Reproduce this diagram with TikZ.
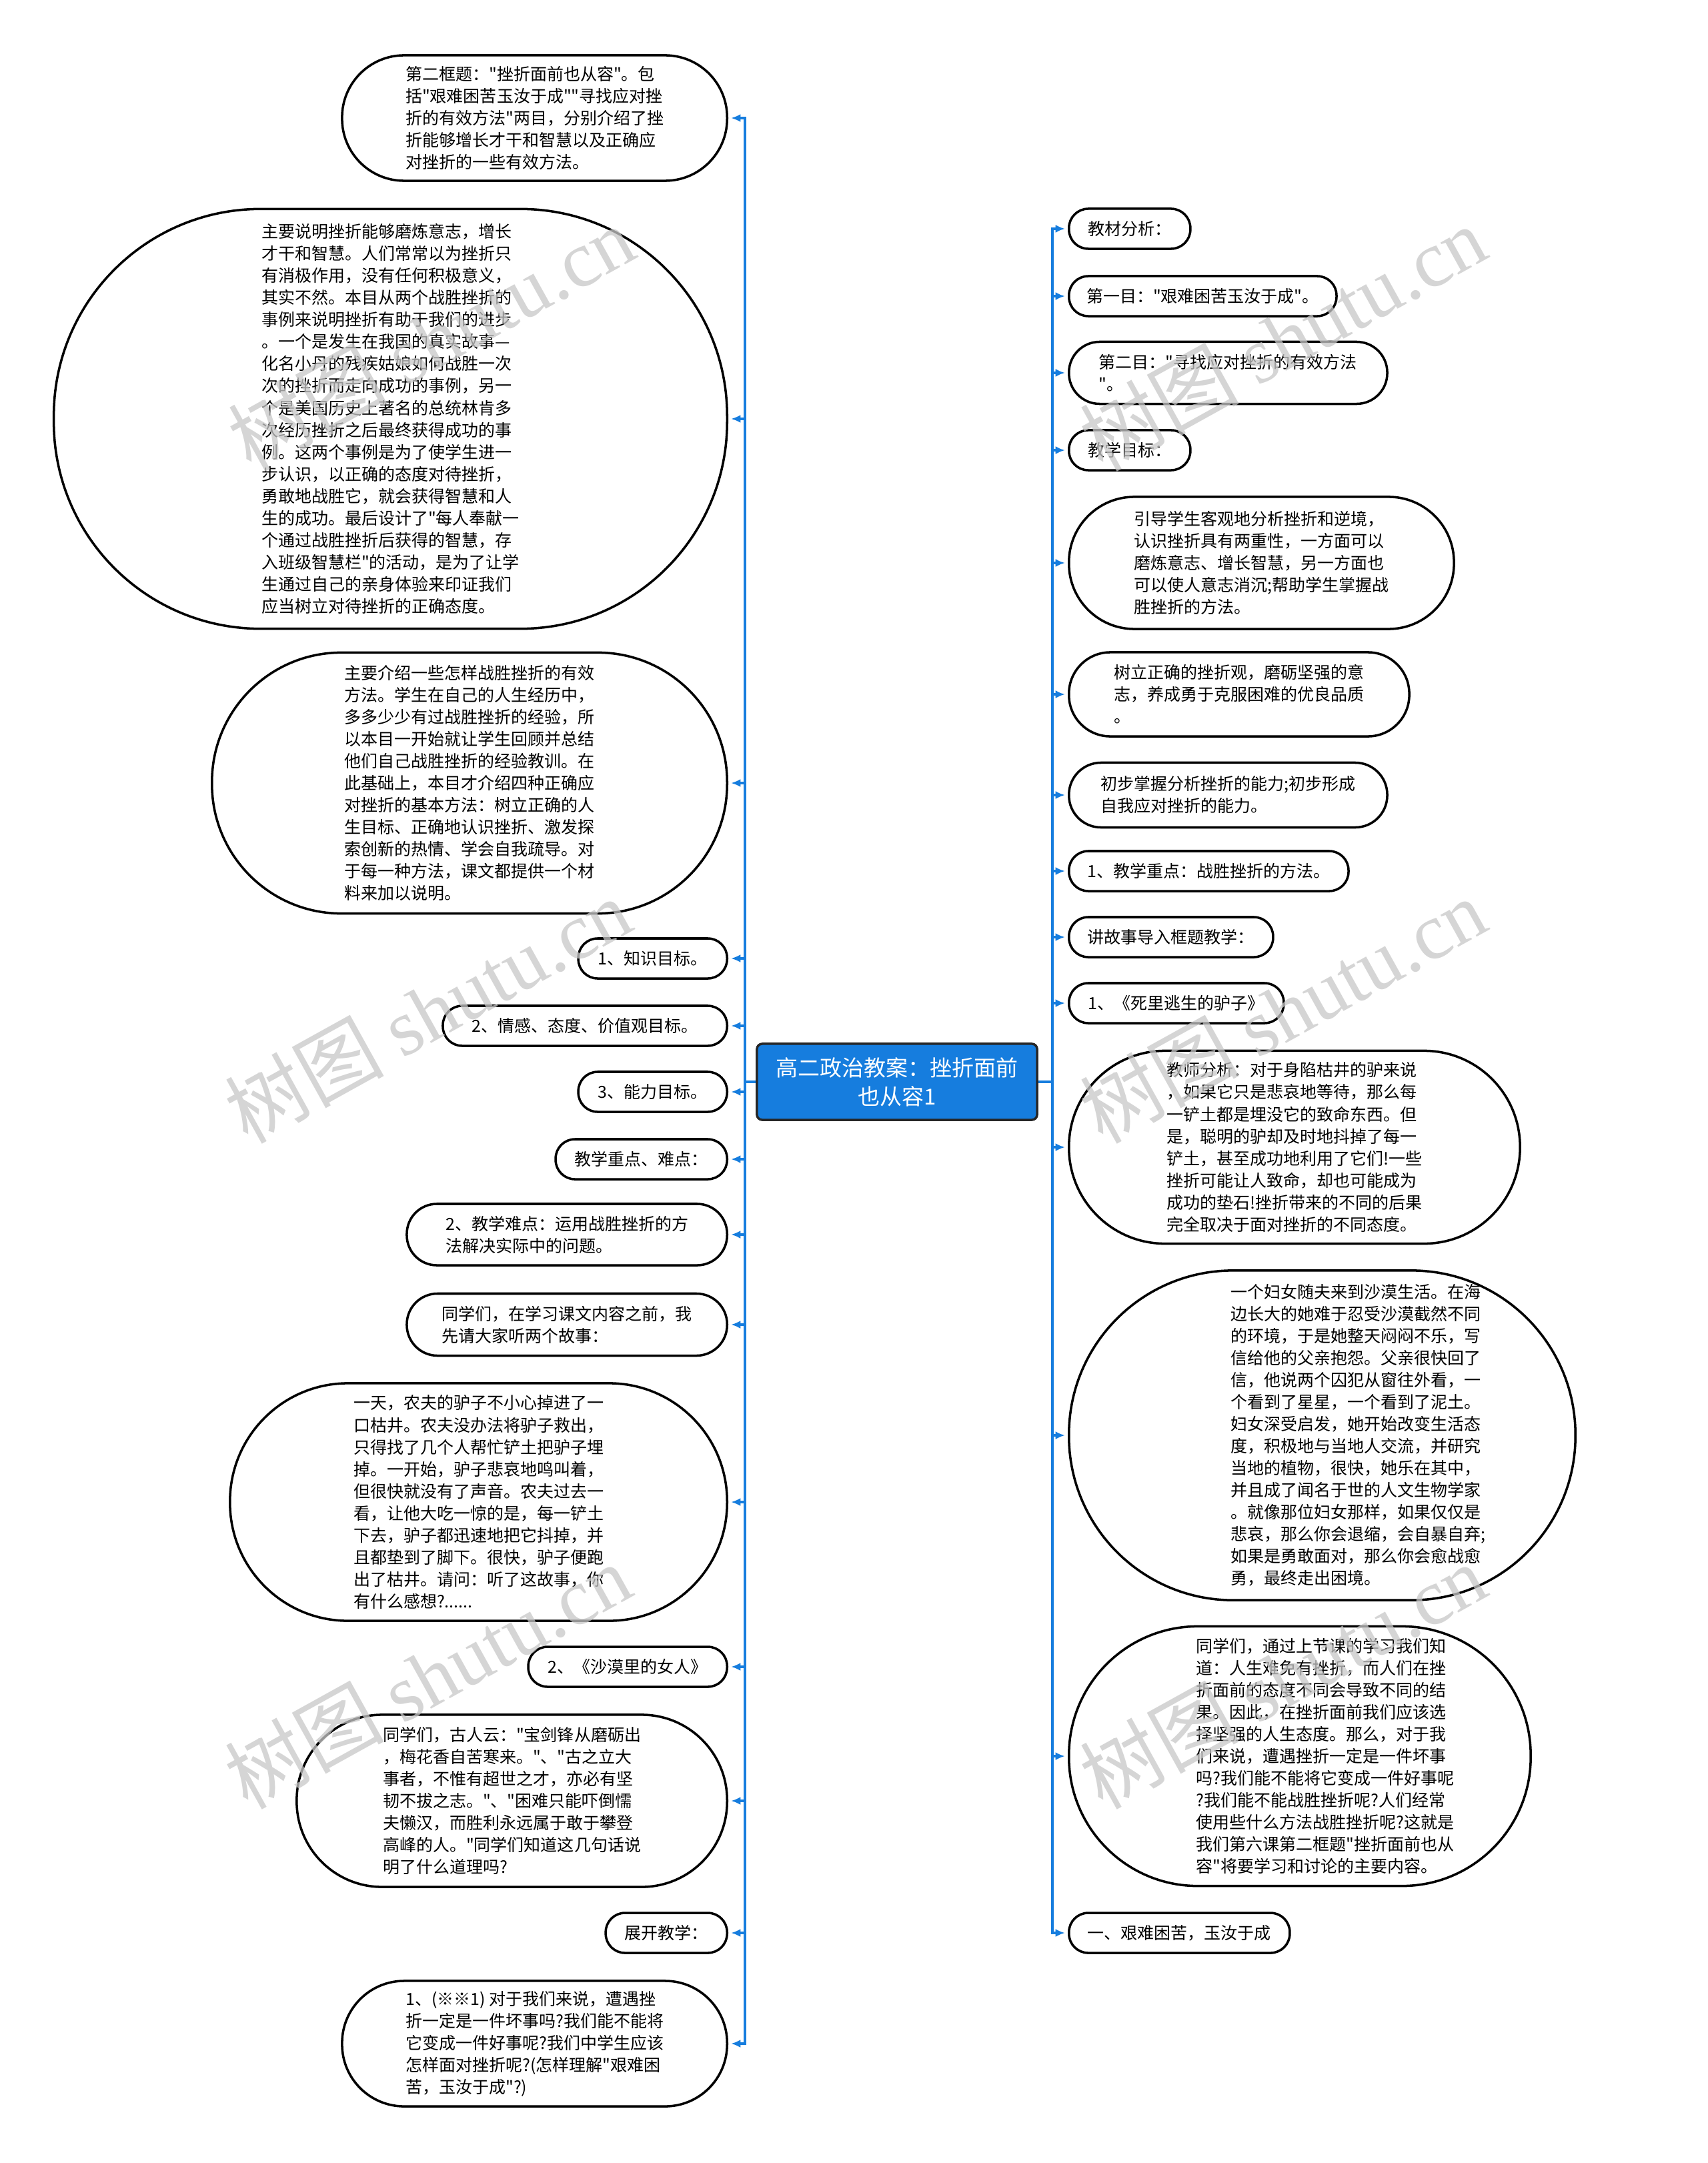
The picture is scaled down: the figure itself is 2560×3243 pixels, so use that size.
\documentclass[tikz,border=0pt]{standalone}
\usepackage{fontspec}
\usepackage{tikz}
\usetikzlibrary{arrows.meta}
\newfontfamily\cjk{Noto Sans CJK SC}
\newfontfamily\wmserif{Liberation Serif}
\definecolor{mindblue}{RGB}{22,125,222}

\tikzset{
  leaf/.style={draw=black, line width=1pt, fill=white, inner sep=0pt, align=left,
    font=\cjk\fontsize{7.11pt}{9.39pt}\selectfont},
  pill/.style={leaf, minimum height=0.6cm, rounded corners=0.29cm},
  leaftext/.style={inner sep=0pt, align=left, font=\cjk\fontsize{7.11pt}{9.39pt}\selectfont},
  link/.style={draw=mindblue, line width=1.2pt, -{Latex[length=4pt,width=3.4pt]}, shorten >=1.2pt},
  watermark/.style={rotate=29, text=black!22, opacity=0.75, inner sep=0pt}
}

\begin{document}
\begin{tikzpicture}[x=0.01cm, y=-0.01cm]

	\fill[white] (0,0) rectangle (2560,3243);
	\useasboundingbox (0,0) rectangle (2560,3243);

	% --- root ---
	\node[fill=mindblue, draw=black!85, line width=1pt, rounded corners=0.08cm, minimum width=4.2cm, minimum height=1.14cm, text=white, align=center, font=\cjk\fontsize{9.39pt}{12.2pt}\selectfont] (root) at (1345,1622) {高二政治教案：挫折面前\\也从容1};

	% --- left branch ---
	\node[leaf, anchor=east, minimum width=5.77cm, minimum height=1.88cm, rounded corners=0.93cm] (l1) at (1092,177) {第二框题："挫折面前也从容"。包\\括"艰难困苦玉汝于成""寻找应对挫\\折的有效方法"两目，分别介绍了挫\\折能够增长才干和智慧以及正确应\\对挫折的一些有效方法。};
	\node[leaf, anchor=east, minimum width=10.09cm, minimum height=6.29cm, rounded corners=3.1cm] (l2) at (1092,628) {主要说明挫折能够磨炼意志，增长\\才干和智慧。人们常常以为挫折只\\有消极作用，没有任何积极意义，\\其实不然。本目从两个战胜挫折的\\事例来说明挫折有助于我们的进步\\。一个是发生在我国的真实故事—\\化名小丹的残疾姑娘如何战胜一次\\次的挫折而走向成功的事例，另一\\个是美国历史上著名的总统林肯多\\次经历挫折之后最终获得成功的事\\例。这两个事例是为了使学生进一\\步认识，以正确的态度对待挫折，\\勇敢地战胜它，就会获得智慧和人\\生的成功。最后设计了"每人奉献一\\个通过战胜挫折后获得的智慧，存\\入班级智慧栏"的活动，是为了让学\\生通过自己的亲身体验来印证我们\\应当树立对待挫折的正确态度。};
	\node[leaf, anchor=east, minimum width=7.72cm, minimum height=3.91cm, rounded corners=1.94cm] (l3) at (1092,1174) {主要介绍一些怎样战胜挫折的有效\\方法。学生在自己的人生经历中，\\多多少少有过战胜挫折的经验，所\\以本目一开始就让学生回顾并总结\\他们自己战胜挫折的经验教训。在\\此基础上，本目才介绍四种正确应\\对挫折的基本方法：树立正确的人\\生目标、正确地认识挫折、激发探\\索创新的热情、学会自我疏导。对\\于每一种方法，课文都提供一个材\\料来加以说明。};
	\node[pill, anchor=east, minimum width=2.23cm] (l4) at (1092,1437) {1、知识目标。};
	\node[pill, anchor=east, minimum width=4.26cm] (l5) at (1092,1538) {2、情感、态度、价值观目标。};
	\node[pill, anchor=east, minimum width=2.23cm] (l6) at (1092,1637) {3、能力目标。};
	\node[pill, anchor=east, minimum width=2.57cm] (l7) at (1092,1738) {教学重点、难点：};
	\node[leaf, anchor=east, minimum width=4.8cm, minimum height=0.92cm, rounded corners=0.45cm] (l8) at (1092,1851) {2、教学难点：运用战胜挫折的方\\法解决实际中的问题。};
	\node[leaf, anchor=east, minimum width=4.8cm, minimum height=0.93cm, rounded corners=0.46cm] (l9) at (1092,1986) {同学们，在学习课文内容之前，我\\先请大家听两个故事：};
	\node[leaf, anchor=east, minimum width=7.45cm, minimum height=3.56cm, rounded corners=1.77cm] (l10) at (1092,2252) {一天，农夫的驴子不小心掉进了一\\口枯井。农夫没办法将驴子救出，\\只得找了几个人帮忙铲土把驴子埋\\掉。一开始，驴子悲哀地鸣叫着，\\但很快就没有了声音。农夫过去一\\看，让他大吃一惊的是，每一铲土\\下去，驴子都迅速地把它抖掉，并\\且都垫到了脚下。很快，驴子便跑\\出了枯井。请问：听了这故事，你\\有什么感想?......};
	\node[pill, anchor=east, minimum width=2.98cm] (l11) at (1092,2499) {2、《沙漠里的女人》};
	\node[leaf, anchor=east, minimum width=6.45cm, minimum height=2.58cm, rounded corners=1.28cm] (l12) at (1092,2700) {同学们，古人云："宝剑锋从磨砺出\\，梅花香自苦寒来。"、"古之立大\\事者，不惟有超世之才，亦必有坚\\韧不拔之志。"、"困难只能吓倒懦\\夫懒汉，而胜利永远属于敢于攀登\\高峰的人。"同学们知道这几句话说\\明了什么道理吗?};
	\node[pill, anchor=east, minimum width=1.82cm] (l13) at (1092,2898) {展开教学：};
	\node[leaf, anchor=east, minimum width=5.77cm, minimum height=1.88cm, rounded corners=0.93cm] (l14) at (1092,3064) {1、(※※1) 对于我们来说，遭遇挫\\折一定是一件坏事吗?我们能不能将\\它变成一件好事呢?我们中学生应该\\怎样面对挫折呢?(怎样理解"艰难困\\苦，玉汝于成"?)};

	% --- right branch ---
	\node[pill, anchor=west, minimum width=1.82cm] (r1) at (1601,343) {教材分析：};
	\node[pill, anchor=west, minimum width=4.01cm] (r2) at (1601,444) {第一目："艰难困苦玉汝于成"。};
	\node[leaf, anchor=west, minimum width=4.77cm, minimum height=0.93cm, rounded corners=0.46cm] (r3) at (1601,559) {第二目："寻找应对挫折的有效方法\\"。};
	\node[pill, anchor=west, minimum width=1.82cm] (r4) at (1601,675) {教学目标：};
	\node[leaf, anchor=west, minimum width=5.77cm, minimum height=1.98cm, rounded corners=0.98cm] (r5) at (1601,844) {引导学生客观地分析挫折和逆境，\\认识挫折具有两重性，一方面可以\\磨炼意志、增长智慧，另一方面也\\可以使人意志消沉;帮助学生掌握战\\胜挫折的方法。};
	\node[leaf, anchor=west, minimum width=5.1cm, minimum height=1.26cm, rounded corners=0.62cm] (r6) at (1601,1041) {树立正确的挫折观，磨砺坚强的意\\志，养成勇于克服困难的优良品质\\。};
	\node[leaf, anchor=west, minimum width=4.77cm, minimum height=0.97cm, rounded corners=0.48cm] (r7) at (1601,1192) {初步掌握分析挫折的能力;初步形成\\自我应对挫折的能力。};
	\node[pill, anchor=west, minimum width=4.19cm] (r8) at (1601,1306) {1、教学重点：战胜挫折的方法。};
	\node[pill, anchor=west, minimum width=3.06cm] (r9) at (1601,1405) {讲故事导入框题教学：};
	\node[pill, anchor=west, minimum width=3.22cm] (r10) at (1601,1504) {1、《死里逃生的驴子》};
	\node[leaf, anchor=west, minimum width=6.76cm, minimum height=2.89cm, rounded corners=1.44cm] (r11) at (1601,1720) {教师分析：对于身陷枯井的驴来说\\，如果它只是悲哀地等待，那么每\\一铲土都是埋没它的致命东西。但\\是，聪明的驴却及时地抖掉了每一\\铲土，甚至成功地利用了它们!一些\\挫折可能让人致命，却也可能成为\\成功的垫石!挫折带来的不同的后果\\完全取决于面对挫折的不同态度。};
	\node[leaf, anchor=west, minimum width=7.59cm, minimum height=4.94cm, rounded corners=2.46cm] (r12) at (1601,2152) {};
	\node[leaftext] (r12t) at ([xshift=0.54cm]r12.center) {一个妇女随夫来到沙漠生活。在海\\边长大的她难于忍受沙漠截然不同\\的环境，于是她整天闷闷不乐，写\\信给他的父亲抱怨。父亲很快回了\\信，他说两个囚犯从窗往外看，一\\个看到了星星，一个看到了泥土。\\妇女深受启发，她开始改变生活态\\度，积极地与当地人交流，并研究\\当地的植物，很快，她乐在其中，\\并且成了闻名于世的人文生物学家\\。就像那位妇女那样，如果仅仅是\\悲哀，那么你会退缩，会自暴自弃;\\如果是勇敢面对，那么你会愈战愈\\勇，最终走出困境。};
	\node[leaf, anchor=west, minimum width=6.92cm, minimum height=3.89cm, rounded corners=1.93cm] (r13) at (1601,2633) {};
	\node[leaftext] (r13t) at ([xshift=0.38cm]r13.center) {同学们，通过上节课的学习我们知\\道：人生难免有挫折，而人们在挫\\折面前的态度不同会导致不同的结\\果。因此，在挫折面前我们应该选\\择坚强的人生态度。那么，对于我\\们来说，遭遇挫折一定是一件坏事\\吗?我们能不能将它变成一件好事呢\\?我们能不能战胜挫折呢?人们经常\\使用些什么方法战胜挫折呢?这就是\\我们第六课第二框题"挫折面前也从\\容"将要学习和讨论的主要内容。};
	\node[pill, anchor=west, minimum width=3.31cm] (r14) at (1601,2898) {一、艰难困苦，玉汝于成};

	% --- connectors, left ---
	\draw[link] (root.west) -- ++(-16,0) |- (l1.east);
	\draw[link] (root.west) -- ++(-16,0) |- (l2.east);
	\draw[link] (root.west) -- ++(-16,0) |- (l3.east);
	\draw[link] (root.west) -- ++(-16,0) |- (l4.east);
	\draw[link] (root.west) -- ++(-16,0) |- (l5.east);
	\draw[link] (root.west) -- ++(-16,0) |- (l6.east);
	\draw[link] (root.west) -- ++(-16,0) |- (l7.east);
	\draw[link] (root.west) -- ++(-16,0) |- (l8.east);
	\draw[link] (root.west) -- ++(-16,0) |- (l9.east);
	\draw[link] (root.west) -- ++(-16,0) |- (l10.east);
	\draw[link] (root.west) -- ++(-16,0) |- (l11.east);
	\draw[link] (root.west) -- ++(-16,0) |- (l12.east);
	\draw[link] (root.west) -- ++(-16,0) |- (l13.east);
	\draw[link] (root.west) -- ++(-16,0) |- (l14.east);

	% --- connectors, right ---
	\draw[link] (root.east) -- ++(21,0) |- (r1.west);
	\draw[link] (root.east) -- ++(21,0) |- (r2.west);
	\draw[link] (root.east) -- ++(21,0) |- (r3.west);
	\draw[link] (root.east) -- ++(21,0) |- (r4.west);
	\draw[link] (root.east) -- ++(21,0) |- (r5.west);
	\draw[link] (root.east) -- ++(21,0) |- (r6.west);
	\draw[link] (root.east) -- ++(21,0) |- (r7.west);
	\draw[link] (root.east) -- ++(21,0) |- (r8.west);
	\draw[link] (root.east) -- ++(21,0) |- (r9.west);
	\draw[link] (root.east) -- ++(21,0) |- (r10.west);
	\draw[link] (root.east) -- ++(21,0) |- (r11.west);
	\draw[link] (root.east) -- ++(21,0) |- (r12.west);
	\draw[link] (root.east) -- ++(21,0) |- (r13.west);
	\draw[link] (root.east) -- ++(21,0) |- (r14.west);

	% watermarks
	\node[watermark] (wm1) at (646,507) {\fontsize{34pt}{34pt}\selectfont\cjk 树图 \wmserif shutu.cn};
	\node[watermark] (wm2) at (1923,507) {\fontsize{34pt}{34pt}\selectfont\cjk 树图 \wmserif shutu.cn};
	\node[watermark] (wm3) at (641,1515) {\fontsize{34pt}{34pt}\selectfont\cjk 树图 \wmserif shutu.cn};
	\node[watermark] (wm4) at (1923,1515) {\fontsize{34pt}{34pt}\selectfont\cjk 树图 \wmserif shutu.cn};
	\node[watermark] (wm5) at (641,2513) {\fontsize{34pt}{34pt}\selectfont\cjk 树图 \wmserif shutu.cn};
	\node[watermark] (wm6) at (1923,2513) {\fontsize{34pt}{34pt}\selectfont\cjk 树图 \wmserif shutu.cn};

\end{tikzpicture}
\end{document}
